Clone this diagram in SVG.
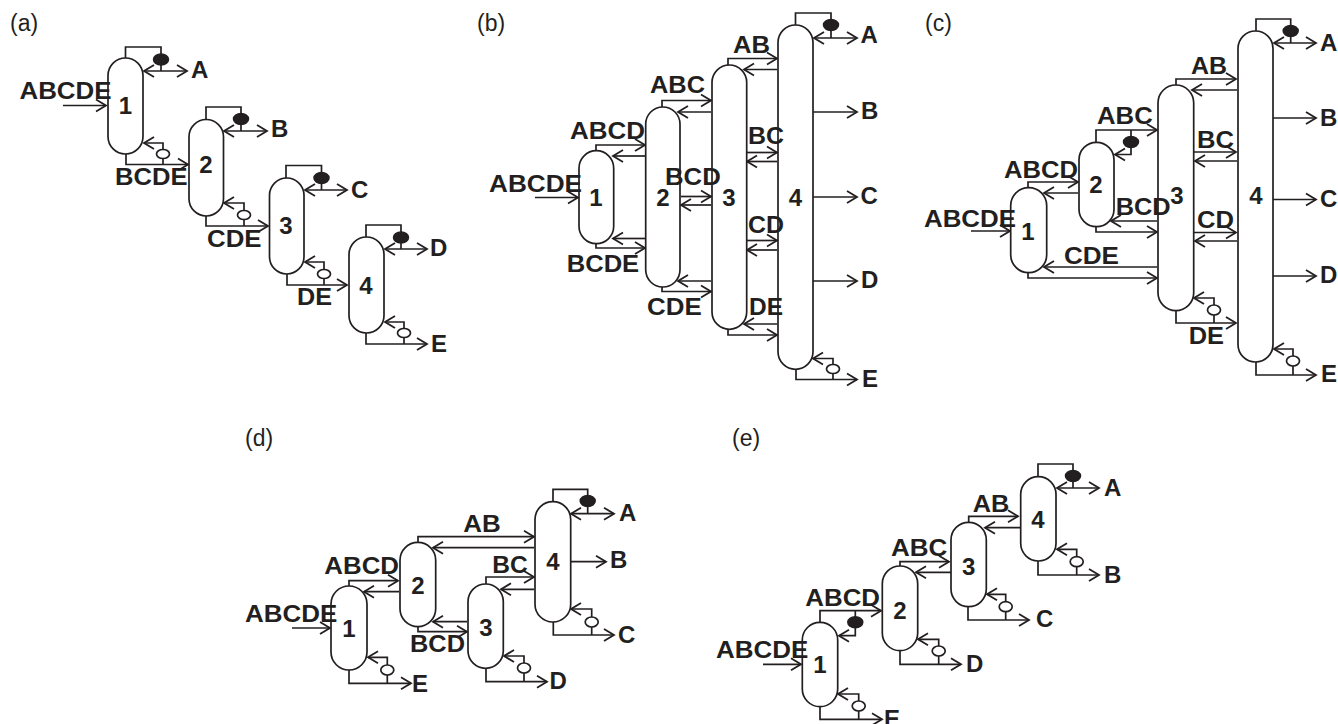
<svg xmlns="http://www.w3.org/2000/svg" width="1338" height="724" viewBox="0 0 1338 724">
<style>
text{font-family:"Liberation Sans",Arial,sans-serif;fill:#231f20}
.p{font-size:23px}
.l,.n{font-size:24px;font-weight:bold}
.n{text-anchor:middle}
.col{fill:#fff;stroke:#231f20;stroke-width:1.7}
.cond{fill:#231f20;stroke:#231f20;stroke-width:1.5}
.reb{fill:#fff;stroke:#231f20;stroke-width:1.7}
.c path{fill:none;stroke:#231f20;stroke-width:1.7;marker-end:url(#h)}
.c path.o{marker-end:none}
.c path.d{marker-start:url(#h)}
</style>
<defs>
<marker id="h" markerUnits="userSpaceOnUse" markerWidth="24" markerHeight="24" refX="12" refY="12" orient="auto-start-reverse" overflow="visible">
<path d="M2,6 L12,12 L2,18" fill="none" stroke="#231f20" stroke-width="1.8"/>
</marker>
</defs>

<!-- panel a -->
<g id="a-connectors" class="c">
<path d="M63,105.5H106"/>
<path class="o" d="M125.5,58V47H161V71"/><path class="d" d="M144,71H187"/>
<path d="M163,164.5V143H144"/><path d="M126,154V164.5H188"/>
<path class="o" d="M206,120V107H241V131"/><path class="d" d="M224,131H267"/>
<path d="M244,226V203H224"/><path d="M206,216V226H268"/>
<path class="o" d="M286,178V165.5H321.5V190"/><path class="d" d="M305,190H347"/>
<path d="M324,285V262H305"/><path d="M287,274V285H347"/>
<path class="o" d="M366,237V225H401V249"/><path class="d" d="M385,249H427"/>
<path d="M404,344V322H385"/><path d="M366,333V344H427"/>
</g>
<g id="a-col1"><rect class="col" x="108" y="58" width="35" height="96" rx="17.5"/><ellipse class="cond" cx="161" cy="59.500" rx="7.500" ry="5.500"/><ellipse class="reb" cx="163" cy="154" rx="6.500" ry="4.500"/><text class="n" x="125.500" y="114">1</text></g>
<g id="a-col2"><rect class="col" x="189" y="119.500" width="34.500" height="96.500" rx="17.250"/><ellipse class="cond" cx="241" cy="119" rx="7.500" ry="5.500"/><ellipse class="reb" cx="244" cy="215" rx="6.500" ry="4.500"/><text class="n" x="206" y="173">2</text></g>
<g id="a-col3"><rect class="col" x="269.500" y="178" width="34.500" height="96" rx="17.250"/><ellipse class="cond" cx="321.500" cy="178" rx="7.500" ry="5.500"/><ellipse class="reb" cx="324" cy="274" rx="6.500" ry="4.500"/><text class="n" x="286" y="234">3</text></g>
<g id="a-col4"><rect class="col" x="349" y="237" width="35" height="96" rx="17.500"/><ellipse class="cond" cx="401" cy="237.500" rx="7.500" ry="5.500"/><ellipse class="reb" cx="404" cy="333" rx="6.500" ry="4.500"/><text class="n" x="366" y="294">4</text></g>
<g id="a-labels">
<text class="p" x="10" y="31">(a)</text>
<text class="l" x="19.500" y="99" textLength="92" lengthAdjust="spacingAndGlyphs">ABCDE</text>
<text class="l" x="115" y="185" textLength="72.500" lengthAdjust="spacingAndGlyphs">BCDE</text>
<text class="l" x="207" y="247" textLength="54.500" lengthAdjust="spacingAndGlyphs">CDE</text>
<text class="l" x="297" y="305" textLength="35" lengthAdjust="spacingAndGlyphs">DE</text>
<text class="l" x="191" y="78">A</text><text class="l" x="271" y="137">B</text><text class="l" x="351" y="198">C</text><text class="l" x="430" y="256">D</text><text class="l" x="431" y="352">E</text>
</g>

<!-- panel b -->
<g id="b-connectors" class="c">
<path d="M535,197.500H578"/>
<path d="M596,151V145H645"/><path d="M645,156H613"/>
<path d="M645,238.500H613"/><path d="M596,244V248H645"/>
<path d="M662,107V100.500H711"/><path d="M711,112H678"/>
<path d="M711,281H678"/><path d="M662,287V291.500H711"/>
<path d="M681,196.500H711"/><path d="M711,205H681"/>
<path d="M728,65V58.500H777"/><path d="M777,69.500H744"/>
<path d="M747,152.500H777"/><path d="M777,161.500H747"/>
<path d="M747,240.500H777"/><path d="M777,250H747"/>
<path d="M777,324H744"/><path d="M728,329V335H777"/>
<path class="o" d="M795.500,25V13H831V38"/><path class="d" d="M814,38H857"/>
<path d="M813,112H857"/><path d="M813,197H857"/><path d="M813,281H857"/>
<path d="M833,379.500V358.500H813"/><path d="M796,369V379.500H857"/>
</g>
<g id="b-col1"><rect class="col" x="579" y="150.700" width="34.700" height="93" rx="17.350"/><text class="n" x="596" y="205.700">1</text></g>
<g id="b-col2"><rect class="col" x="645.700" y="107" width="34.300" height="180" rx="17.150"/><text class="n" x="663" y="205.700">2</text></g>
<g id="b-col3"><rect class="col" x="712" y="65" width="34.700" height="264.300" rx="17.350"/><text class="n" x="729" y="205.700">3</text></g>
<g id="b-col4"><rect class="col" x="778" y="25" width="35" height="344.300" rx="17.500"/><ellipse class="cond" cx="831" cy="25" rx="7.500" ry="5.500"/><ellipse class="reb" cx="833" cy="369" rx="6.500" ry="4.500"/><text class="n" x="795.500" y="205.700">4</text></g>
<g id="b-labels">
<text class="p" x="477" y="31">(b)</text>
<text class="l" x="489" y="191.700" textLength="93" lengthAdjust="spacingAndGlyphs">ABCDE</text>
<text class="l" x="570" y="139" textLength="75" lengthAdjust="spacingAndGlyphs">ABCD</text>
<text class="l" x="650" y="93" textLength="55" lengthAdjust="spacingAndGlyphs">ABC</text>
<text class="l" x="733" y="52.700" textLength="37" lengthAdjust="spacingAndGlyphs">AB</text>
<text class="l" x="665" y="185" textLength="55.700" lengthAdjust="spacingAndGlyphs">BCD</text>
<text class="l" x="748" y="144" textLength="36" lengthAdjust="spacingAndGlyphs">BC</text>
<text class="l" x="748" y="232.700" textLength="36" lengthAdjust="spacingAndGlyphs">CD</text>
<text class="l" x="749" y="315" textLength="34" lengthAdjust="spacingAndGlyphs">DE</text>
<text class="l" x="566.700" y="272" textLength="72.500" lengthAdjust="spacingAndGlyphs">BCDE</text>
<text class="l" x="647" y="315" textLength="54.700" lengthAdjust="spacingAndGlyphs">CDE</text>
<text class="l" x="860.500" y="43">A</text><text class="l" x="861" y="119">B</text><text class="l" x="860.500" y="204">C</text><text class="l" x="861" y="288">D</text><text class="l" x="862" y="387">E</text>
</g>

<!-- panel c -->
<g id="c-connectors" class="c">
<path d="M971,231H1010"/>
<path d="M1028,188V182H1078"/><path d="M1078,193H1044"/>
<path d="M1096,142V130H1157"/><path d="M1131,130V154.500H1115"/>
<path d="M1157,221H1111"/><path d="M1096,227V232H1157"/>
<path d="M1157,267H1044"/><path d="M1028,273V278H1157"/>
<path d="M1176,85V79H1236"/><path d="M1237,90H1192"/>
<path d="M1194,152H1236"/><path d="M1237,161H1195"/>
<path d="M1194,232.500H1236"/><path d="M1237,241H1195"/>
<path d="M1214,323V298H1194"/><path d="M1176,311V323H1236"/>
<path class="o" d="M1256,31V19H1290.700V43"/><path class="d" d="M1274,43H1316"/>
<path d="M1273,118H1316"/><path d="M1273,199.500H1316"/><path d="M1273,276H1316"/>
<path d="M1293,375V349H1274"/><path d="M1256,362V375H1316"/>
</g>
<g id="c-col1"><rect class="col" x="1010.700" y="187.700" width="36" height="85" rx="18"/><text class="n" x="1028" y="240">1</text></g>
<g id="c-col2"><rect class="col" x="1079" y="142.300" width="35" height="84.400" rx="17.500"/><ellipse class="cond" cx="1131" cy="142" rx="7.500" ry="5.500"/><text class="n" x="1096" y="193">2</text></g>
<g id="c-col3"><rect class="col" x="1158" y="85" width="35.700" height="225.700" rx="17.850"/><ellipse class="reb" cx="1214" cy="310" rx="6.500" ry="5"/><text class="n" x="1177" y="204">3</text></g>
<g id="c-col4"><rect class="col" x="1238" y="31" width="35" height="331" rx="17.500"/><ellipse class="cond" cx="1290.700" cy="31" rx="7.500" ry="5.500"/><ellipse class="reb" cx="1293" cy="361" rx="6.500" ry="5"/><text class="n" x="1256" y="204">4</text></g>
<g id="c-labels">
<text class="p" x="925" y="31">(c)</text>
<text class="l" x="924" y="226.700" textLength="92" lengthAdjust="spacingAndGlyphs">ABCDE</text>
<text class="l" x="1004" y="177.700" textLength="74" lengthAdjust="spacingAndGlyphs">ABCD</text>
<text class="l" x="1097" y="124" textLength="55.700" lengthAdjust="spacingAndGlyphs">ABC</text>
<text class="l" x="1191" y="74" textLength="36" lengthAdjust="spacingAndGlyphs">AB</text>
<text class="l" x="1197" y="148" textLength="37" lengthAdjust="spacingAndGlyphs">BC</text>
<text class="l" x="1115.700" y="215" textLength="55" lengthAdjust="spacingAndGlyphs">BCD</text>
<text class="l" x="1197" y="228" textLength="37" lengthAdjust="spacingAndGlyphs">CD</text>
<text class="l" x="1064" y="264" textLength="55" lengthAdjust="spacingAndGlyphs">CDE</text>
<text class="l" x="1188.700" y="344" textLength="35.300" lengthAdjust="spacingAndGlyphs">DE</text>
<text class="l" x="1320" y="51">A</text><text class="l" x="1320" y="125.700">B</text><text class="l" x="1320" y="206.700">C</text><text class="l" x="1320" y="283">D</text><text class="l" x="1321" y="382">E</text>
</g>

<!-- panel d -->
<g id="d-connectors" class="c">
<path d="M292,628H330"/>
<path d="M349,586V580.700H398"/><path d="M399,591.700H364"/>
<path d="M418,542V536.700H534"/><path d="M534,547.700H433"/>
<path d="M486,584V577H534"/><path d="M534,589.300H501"/>
<path d="M467,621.700H433"/><path d="M418,627V631.700H467"/>
<path d="M387.300,683.300V657.300H368"/><path d="M349,670V683.300H411"/>
<path d="M524,681.700V656H504"/><path d="M486,668V681.700H547"/>
<path d="M591.700,635V609H571"/><path d="M553.300,622V635H614"/>
<path class="o" d="M553,502V489.300H587.700V513.700"/><path class="d" d="M571,513.700H614"/>
<path d="M571,561.700H606"/>
</g>
<g id="d-col1"><rect class="col" x="331" y="586" width="36" height="84" rx="18"/><ellipse class="reb" cx="387.300" cy="670" rx="6.500" ry="5"/><text class="n" x="349" y="636.700">1</text></g>
<g id="d-col2"><rect class="col" x="400" y="542.300" width="35.700" height="84.400" rx="17.850"/><text class="n" x="418" y="594.300">2</text></g>
<g id="d-col3"><rect class="col" x="468" y="584" width="35.300" height="84.300" rx="17.650"/><ellipse class="reb" cx="524" cy="668" rx="6.500" ry="5"/><text class="n" x="486" y="635.700">3</text></g>
<g id="d-col4"><rect class="col" x="535" y="501.700" width="35.700" height="120.300" rx="17.850"/><ellipse class="cond" cx="587.700" cy="501" rx="7.500" ry="5.500"/><ellipse class="reb" cx="591.700" cy="622" rx="6.500" ry="5"/><text class="n" x="553" y="570">4</text></g>
<g id="d-labels">
<text class="p" x="245" y="445.500">(d)</text>
<text class="l" x="245" y="622.300" textLength="92.300" lengthAdjust="spacingAndGlyphs">ABCDE</text>
<text class="l" x="324.300" y="574" textLength="74.700" lengthAdjust="spacingAndGlyphs">ABCD</text>
<text class="l" x="463.300" y="531.700" textLength="37.400" lengthAdjust="spacingAndGlyphs">AB</text>
<text class="l" x="492.300" y="573.300" textLength="35.400" lengthAdjust="spacingAndGlyphs">BC</text>
<text class="l" x="410" y="652.300" textLength="55" lengthAdjust="spacingAndGlyphs">BCD</text>
<text class="l" x="619" y="520.700">A</text><text class="l" x="610" y="568">B</text><text class="l" x="618" y="642.700">C</text><text class="l" x="549.500" y="689">D</text><text class="l" x="412" y="691.700">E</text>
</g>

<!-- panel e -->
<g id="e-connectors" class="c">
<path d="M763,664.300H801"/>
<path d="M820,622V610.700H881"/><path d="M855.300,610.700V635.700H839"/>
<path d="M858.700,719.300V694H838"/><path d="M820,706.700V719.300H882"/>
<path d="M900,566V561.700H949"/><path d="M951,572.300H916"/>
<path d="M968.700,522V516.300H1018"/><path d="M1020,527.700H985"/>
<path d="M938.700,664.300V639.300H918"/><path d="M900,650.700V664.300H961"/>
<path d="M1005.700,620V594.300H987"/><path d="M968,606.700V620H1029"/>
<path d="M1076.700,575V549.300H1057"/><path d="M1038,561V575H1099"/>
<path class="o" d="M1038,477V464H1073V488"/><path class="d" d="M1057,488H1099"/>
</g>
<g id="e-col1"><rect class="col" x="802.300" y="622.300" width="35.400" height="84.400" rx="17.700"/><ellipse class="cond" cx="855.300" cy="622.300" rx="7.500" ry="5.500"/><ellipse class="reb" cx="858.700" cy="706" rx="6.500" ry="5"/><text class="n" x="820" y="673.300">1</text></g>
<g id="e-col2"><rect class="col" x="882.300" y="566" width="35.400" height="84.700" rx="17.700"/><ellipse class="reb" cx="938.700" cy="651" rx="6.500" ry="5"/><text class="n" x="900" y="619">2</text></g>
<g id="e-col3"><rect class="col" x="951" y="522.300" width="35.300" height="84.400" rx="17.650"/><ellipse class="reb" cx="1005.700" cy="606.700" rx="6.500" ry="5"/><text class="n" x="968.700" y="575">3</text></g>
<g id="e-col4"><rect class="col" x="1020.700" y="476.700" width="35.300" height="84.300" rx="17.650"/><ellipse class="cond" cx="1073" cy="476" rx="7.500" ry="5.500"/><ellipse class="reb" cx="1076.700" cy="561.700" rx="6.500" ry="5"/><text class="n" x="1038" y="528.300">4</text></g>
<g id="e-labels">
<text class="p" x="732" y="445.500">(e)</text>
<text class="l" x="716" y="658.300" textLength="92.300" lengthAdjust="spacingAndGlyphs">ABCDE</text>
<text class="l" x="805.300" y="606" textLength="74.700" lengthAdjust="spacingAndGlyphs">ABCD</text>
<text class="l" x="891" y="556" textLength="56.300" lengthAdjust="spacingAndGlyphs">ABC</text>
<text class="l" x="972.700" y="511.700" textLength="36.600" lengthAdjust="spacingAndGlyphs">AB</text>
<text class="l" x="1104" y="496">A</text><text class="l" x="1104" y="582.700">B</text><text class="l" x="1036" y="627.300">C</text><text class="l" x="966" y="671.700">D</text><text class="l" x="884" y="727">E</text>
</g>
</svg>
